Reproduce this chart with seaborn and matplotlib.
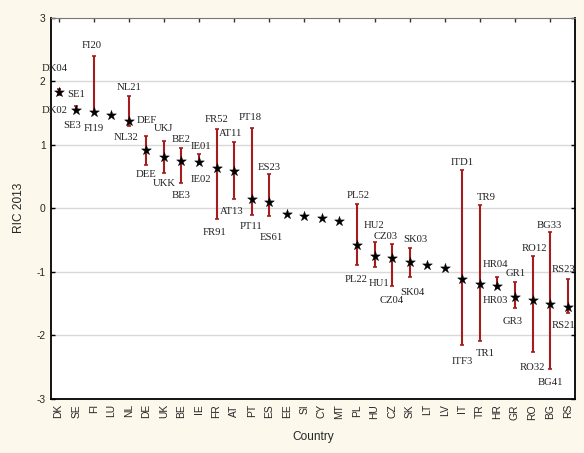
import numpy as np
import pandas as pd
import matplotlib
matplotlib.use("Agg")
import matplotlib.pyplot as plt
import seaborn as sns

# country means with the NUTS-2 min / max regions
countries = ["DK", "SE", "FI", "LU", "NL", "DE", "UK", "BE", "IE", "FR",
             "AT", "PT", "ES", "EE", "SI", "CY", "MT", "PL", "HU", "CZ",
             "SK", "LT", "LV", "IT", "TR", "HR", "GR", "RO", "BG", "RS"]
ric = [1.83, 1.55, 1.52, 1.46, 1.38, 0.91, 0.80, 0.74, 0.72, 0.64,
       0.59, 0.14, 0.09, -0.09, -0.12, -0.16, -0.20, -0.58, -0.75, -0.79,
       -0.84, -0.89, -0.945, -1.12, -1.19, -1.22, -1.40, -1.44, -1.51, -1.55]
ric_max = [1.88, 1.61, 2.40, np.nan, 1.76, 1.14, 1.06, 0.95, 0.85, 1.24,
           1.04, 1.27, 0.535, np.nan, np.nan, np.nan, np.nan, 0.06, -0.54, -0.57,
           -0.63, np.nan, np.nan, 0.60, 0.05, -1.09, -1.155, -0.75, -0.38, -1.12]
ric_min = [1.78, 1.53, 1.52, np.nan, 1.29, 0.68, 0.56, 0.40, 0.69, -0.17,
           0.14, -0.105, -0.12, np.nan, np.nan, np.nan, np.nan, -0.90, -0.92, -1.23,
           -1.09, np.nan, np.nan, -2.15, -2.09, -1.26, -1.565, -2.27, -2.53, -1.65]
top_region = ["DK04", "SE1", "FI20", "", "NL21", "DEF", "UKJ", "BE2", "IE01", "FR52",
              "AT11", "PT18", "ES23", "", "", "", "", "PL52", "HU2", "CZ03",
              "SK03", "", "", "ITD1", "TR9", "HR04", "GR1", "RO12", "BG33", "RS23"]
low_region = ["DK02", "SE3", "FI19", "", "NL32", "DEE", "UKK", "BE3", "IE02", "FR91",
              "AT13", "PT11", "ES61", "", "", "", "", "PL22", "HU1", "CZ04",
              "SK04", "", "", "ITF3", "TR1", "HR03", "GR3", "RO32", "BG41", "RS21"]

# label offsets (pixels) from the bar ends
lab_off = {
    "DK04": (-4, 20), "DK02": (-4, -15), "SE1": (0, 11), "SE3": (-4, -14),
    "FI20": (-2, 10), "FI19": (0, -17), "NL21": (0, 9), "NL32": (-3, -11),
    "DEF": (0, 15), "DEE": (0, -10), "UKJ": (0, 12), "UKK": (0, -11),
    "BE2": (0, 8), "BE3": (0, -13), "IE01": (2, 8), "IE02": (2, -15),
    "FR52": (0, 10), "FR91": (-2, -14), "AT11": (-4, 9), "AT13": (-2, -12),
    "PT18": (-1, 10), "PT11": (-1, -12), "ES23": (0, 7), "ES61": (2, -22),
    "PL52": (1, 9), "PL22": (-1, -14), "HU2": (-1, 17), "HU1": (4, -17),
    "CZ03": (-6, 8), "CZ04": (0, -14), "SK03": (6, 9), "SK04": (3, -15),
    "ITD1": (0, 8), "ITF3": (0, -17), "TR9": (6, 8), "TR1": (5, -13),
    "HR04": (-2, 13), "HR03": (-2, -12), "GR1": (1, 8), "GR3": (-2, -14),
    "RO12": (2, 7), "RO32": (0, -15), "BG33": (-1, 7), "BG41": (0, -14),
    "RS23": (-4, 10), "RS21": (-4, -13),
}

df = pd.DataFrame({"country": countries, "ric": ric, "hi": ric_max, "lo": ric_min,
                   "top": top_region, "low": low_region})
df["x"] = np.arange(len(df))

sns.set_style("white")
plt.rcParams["font.family"] = ["Liberation Sans", "DejaVu Sans"]

bg = "#fcf8ec"
bar_col = "#a51c1c"
fig = plt.figure(figsize=(5.84, 4.53), dpi=100, facecolor=bg)
ax = fig.add_axes([0.0873, 0.1199, 0.8973, 0.8411])
ax.set_facecolor("white")

for yv in [-2, -1, 0, 1, 2]:
    ax.axhline(yv, color="#d9d9d9", lw=1, zorder=0)

bars = df.dropna(subset=["hi"])
ax.errorbar(bars["x"], bars["ric"],
            yerr=[bars["ric"] - bars["lo"], bars["hi"] - bars["ric"]],
            fmt="none", ecolor=bar_col, elinewidth=1.5, capsize=1.6, capthick=1.2, zorder=2)

sns.scatterplot(data=df, x="x", y="ric", marker="*", s=55, color="black",
                edgecolor="black", linewidth=0.3, ax=ax, zorder=3, legend=False)

for _, r in bars.iterrows():
    for name, yv in ((r["top"], r["hi"]), (r["low"], r["lo"])):
        dx, dy = lab_off[name]
        ax.annotate(name, (r["x"], yv), xytext=(dx, dy), textcoords="offset pixels",
                    ha="center", va="center", fontsize=7.7,
                    family=["Liberation Serif", "DejaVu Serif"], color="#222222")

ax.set_xlim(-0.43, 29.42)
ax.set_ylim(-3, 3)
ax.set_xticks(df["x"])
ax.set_xticklabels(countries, rotation=90, fontsize=7.4)
ax.set_yticks([-3, -2, -1, 0, 1, 2, 3])
ax.set_yticklabels(["-3", "-2", "-1", "0", "1", "2", "3"], fontsize=7.4)
ax.tick_params(axis="both", direction="in", length=3, width=1, color="black", pad=4)
ax.tick_params(axis="y", right=True, left=True)
top = ax.secondary_xaxis("top")
top.set_xticks(df["x"][::2])
top.set_xticklabels([])
top.tick_params(direction="in", length=3, width=1, color="#333333")
top.spines["top"].set_visible(False)

for s in ["left", "bottom", "right"]:
    ax.spines[s].set_color("black")
    ax.spines[s].set_linewidth(1.3)
ax.spines["top"].set_color("#777777")
ax.spines["top"].set_linewidth(0.8)

ax.set_xlabel("Country", fontsize=8.6, labelpad=8)
ax.set_ylabel("RIC 2013", fontsize=8.6, labelpad=8)

fig.savefig("out.png", dpi=100, facecolor=bg)
